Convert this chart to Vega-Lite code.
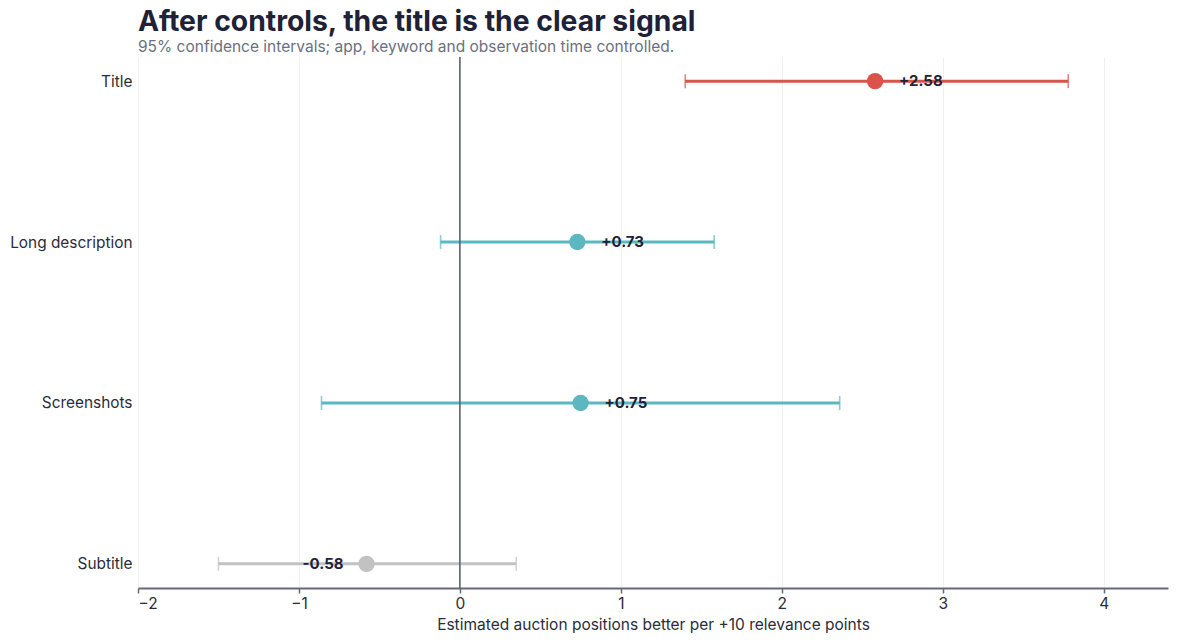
{
  "$schema": "https://vega.github.io/schema/vega-lite/v6.json",
  "width": 1030,
  "height": 531,
  "autosize": {"type": "none"},
  "padding": {"left": 138, "top": 57, "right": 11, "bottom": 55},
  "background": "white",
  "config": {
    "font": "Inter",
    "view": {"stroke": null},
    "axis": {"labelFont": "Inter", "titleFont": "Inter"}
  },
  "title": {
    "text": "After controls, the title is the clear signal",
    "subtitle": "95% confidence intervals; app, keyword and observation time controlled.",
    "anchor": "start",
    "frame": "group",
    "font": "Inter",
    "fontSize": 28.3,
    "fontWeight": "bold",
    "color": "#1f2237",
    "subtitleFont": "Inter",
    "subtitleFontSize": 15.5,
    "subtitleColor": "#6b7080",
    "subtitlePadding": 2,
    "offset": 0
  },
  "data": {
    "values": [
      {"feature": "Title", "est": 2.58, "lo": 1.40, "hi": 3.78, "label": "+2.58", "tone": "highlight"},
      {"feature": "Long description", "est": 0.73, "lo": -0.12, "hi": 1.58, "label": "+0.73", "tone": "positive"},
      {"feature": "Screenshots", "est": 0.75, "lo": -0.86, "hi": 2.36, "label": "+0.75", "tone": "positive"},
      {"feature": "Subtitle", "est": -0.58, "lo": -1.50, "hi": 0.35, "label": "-0.58", "tone": "negative"}
    ]
  },
  "encoding": {
    "y": {
      "field": "feature",
      "type": "nominal",
      "sort": ["Title", "Long description", "Screenshots", "Subtitle"],
      "scale": {"type": "point", "padding": 0.15},
      "axis": {
        "title": null,
        "domain": false,
        "ticks": false,
        "grid": false,
        "labelFontSize": 15.4,
        "labelColor": "#2a2d3a",
        "labelPadding": 6
      }
    }
  },
  "layer": [
    {
      "mark": {"type": "rule", "strokeWidth": 3},
      "encoding": {
        "x": {
          "field": "lo",
          "type": "quantitative",
          "scale": {"domain": [-2, 4.4], "nice": false, "zero": false},
          "axis": {
            "title": "Estimated auction positions better per +10 relevance points",
            "titleFontSize": 15.5,
            "titleFontWeight": "normal",
            "titleColor": "#2a2d3a",
            "titlePadding": 6,
            "values": [-2, -1, 0, 1, 2, 3, 4],
            "format": "d",
            "labelFontSize": 15.5,
            "labelColor": "#2a2d3a",
            "labelPadding": 3,
            "domainColor": "#666a77",
            "domainWidth": 2,
            "tickColor": "#666a77",
            "tickWidth": 1.5,
            "tickSize": 5,
            "grid": true,
            "gridColor": "#f0f0f0",
            "gridWidth": 1
          }
        },
        "x2": {"field": "hi"},
        "color": {
          "field": "tone",
          "type": "nominal",
          "scale": {"domain": ["highlight", "positive", "negative"], "range": ["#d9534a", "#5bb8c1", "#c2c2c2"]},
          "legend": null
        }
      }
    },
    {
      "mark": {"type": "tick", "orient": "vertical", "size": 14, "thickness": 1.6},
      "encoding": {
        "x": {"field": "lo", "type": "quantitative"},
        "color": {"field": "tone", "type": "nominal", "legend": null}
      }
    },
    {
      "mark": {"type": "tick", "orient": "vertical", "size": 14, "thickness": 1.6},
      "encoding": {
        "x": {"field": "hi", "type": "quantitative"},
        "color": {"field": "tone", "type": "nominal", "legend": null}
      }
    },
    {
      "data": {"values": [{"zero": 0}]},
      "mark": {"type": "rule", "color": "#555a66", "strokeWidth": 1.5},
      "encoding": {
        "x": {"field": "zero", "type": "quantitative"},
        "y": {"value": 0},
        "y2": {"value": 531}
      }
    },
    {
      "mark": {"type": "circle", "size": 270, "opacity": 1},
      "encoding": {
        "x": {"field": "est", "type": "quantitative"},
        "color": {"field": "tone", "type": "nominal", "legend": null}
      }
    },
    {
      "transform": [{"filter": "datum.est >= 0"}],
      "mark": {"type": "text", "align": "left", "dx": 24, "fontSize": 15, "fontWeight": "bold", "color": "#1f2237", "baseline": "middle"},
      "encoding": {
        "x": {"field": "est", "type": "quantitative"},
        "text": {"field": "label"}
      }
    },
    {
      "transform": [{"filter": "datum.est < 0"}],
      "mark": {"type": "text", "align": "right", "dx": -23, "fontSize": 15, "fontWeight": "bold", "color": "#1f2237", "baseline": "middle"},
      "encoding": {
        "x": {"field": "est", "type": "quantitative"},
        "text": {"field": "label"}
      }
    }
  ]
}
